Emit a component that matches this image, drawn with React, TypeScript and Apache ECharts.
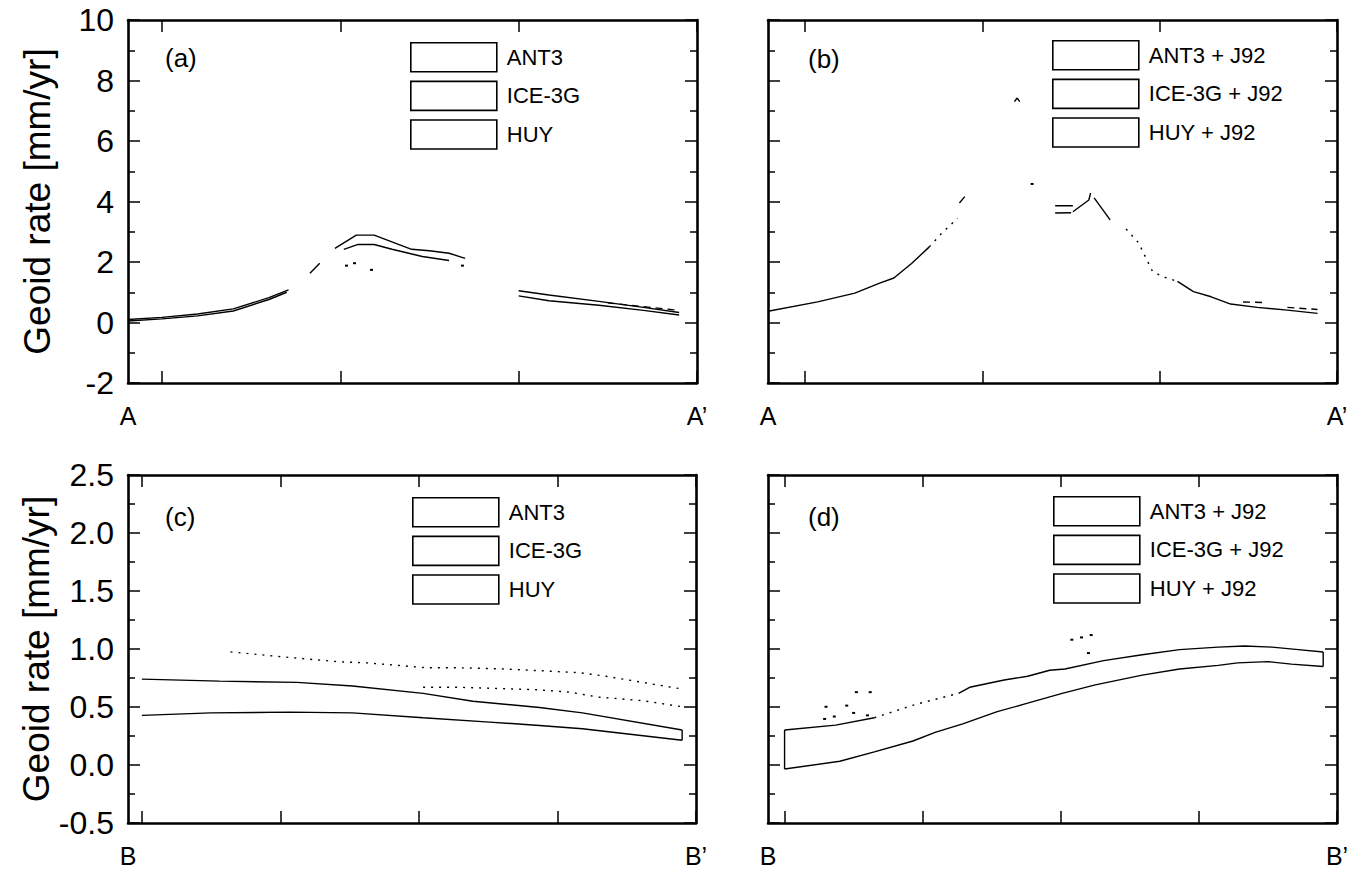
import React, { useEffect, useRef } from "react";
import * as echarts from "echarts";

const FONT = '"Liberation Sans", Arial, Helvetica, sans-serif';

// ---------- tick / label values ----------
const xTicksTop = [0, 1, 2, 3];
const xTicksBottom = [0, 1, 2, 3, 4];
const profileLabelsTop = ["A", "A\u2019"];
const profileLabelsBottom = ["B", "B\u2019"];
const modelsPlain = ["ANT3", "ICE-3G", "HUY"];
const modelsJ92 = ["ANT3 + J92", "ICE-3G + J92", "HUY + J92"];

// ---------- panel (a): geoid rate along A-A' ----------
const aLeftUpper = [[-0.19, 0.1], [0, 0.17], [0.2, 0.28], [0.4, 0.45], [0.6, 0.82], [0.71, 1.08]];
const aLeftLower = [[-0.19, 0.05], [0, 0.12], [0.2, 0.22], [0.4, 0.38], [0.6, 0.76], [0.7, 1.0]];
const aRise = [[0.83, 1.63], [0.885, 1.96]];
const aPeakUpper = [[0.97, 2.45], [1.09, 2.89], [1.19, 2.89], [1.4, 2.42], [1.5, 2.37], [1.61, 2.29], [1.7, 2.12]];
const aPeakLower = [[1.02, 2.42], [1.1, 2.58], [1.19, 2.58], [1.29, 2.42], [1.46, 2.18], [1.61, 2.05]];
const aPeakDots = [[1.035, 1.88], [1.08, 1.96], [1.175, 1.74], [1.685, 1.88]];
const aRightUpper = [[2.0, 1.05], [2.17, 0.91], [2.45, 0.7], [2.7, 0.5], [2.9, 0.33]];
const aRightLower = [[2.0, 0.88], [2.17, 0.72], [2.45, 0.57], [2.7, 0.4], [2.9, 0.25]];
const aRightDash = [[2.5, 0.65], [2.9, 0.4]];

// ---------- panel (b): A-A' with J92 ----------
const bLeft = [[-0.21, 0.37], [0.07, 0.68], [0.28, 0.97], [0.42, 1.3], [0.5, 1.47], [0.6, 1.95], [0.7, 2.5]];
const bLeftDots = [[0.7, 2.5], [0.77, 2.95], [0.86, 3.45]];
const bLeftSeg = [[0.87, 3.95], [0.9, 4.16]];
const bPeakMark = [[1.18, 7.3], [1.196, 7.42], [1.21, 7.3]];
const bPeakDot = [[1.28, 4.58]];
const bEqUpper = [[1.41, 3.86], [1.51, 3.86]];
const bEqLower = [[1.41, 3.62], [1.5, 3.63]];
const bRise = [[1.51, 3.66], [1.6, 4.05], [1.61, 4.28]];
const bFall = [[1.63, 4.12], [1.72, 3.39]];
const bRightDots = [[1.81, 3.09], [1.88, 2.64], [1.96, 1.68], [2.02, 1.51], [2.1, 1.36]];
const bRight = [[2.1, 1.36], [2.19, 1.02], [2.29, 0.85], [2.4, 0.61], [2.55, 0.5], [2.72, 0.41], [2.89, 0.3]];
const bRightDash1 = [[2.47, 0.68], [2.6, 0.66]];
const bRightDash2 = [[2.72, 0.5], [2.89, 0.43]];

// ---------- panel (c): B-B' ----------
const cUpper = [[0, 0.74], [0.56, 0.723], [1.12, 0.712], [1.52, 0.681], [2.03, 0.617], [2.39, 0.549], [2.87, 0.496], [3.18, 0.449], [3.9, 0.302]];
const cLower = [[0, 0.428], [0.5, 0.449], [1.07, 0.456], [1.52, 0.449], [2.03, 0.407], [2.51, 0.37], [2.87, 0.341], [3.18, 0.312], [3.9, 0.213]];
const cEnd = [[3.9, 0.302], [3.9, 0.213]];
const cIceUpper = [[0.64, 0.975], [1.01, 0.933], [1.41, 0.891], [1.63, 0.88], [2.06, 0.838], [2.3, 0.838], [2.61, 0.828], [3.16, 0.796], [3.35, 0.765], [3.88, 0.659]];
const cIceLower = [[2.03, 0.67], [2.3, 0.67], [2.85, 0.649], [3.09, 0.628], [3.29, 0.586], [3.62, 0.554], [3.9, 0.502]];

// ---------- panel (d): B-B' with J92 ----------
const dStart = [[0, 0.302], [0, -0.035]];
const dUpper1 = [[0, 0.302], [0.37, 0.344], [0.65, 0.407]];
const dUpperDots = [[0.65, 0.407], [0.95, 0.523], [1.26, 0.618]];
const dUpper2 = [[1.26, 0.618], [1.34, 0.67], [1.59, 0.733], [1.76, 0.765], [1.92, 0.817], [2.03, 0.828], [2.31, 0.9], [2.59, 0.95], [2.86, 0.995], [3.14, 1.016], [3.33, 1.026], [3.53, 1.016], [3.72, 0.995], [3.9, 0.974]];
const dLower = [[0, -0.035], [0.4, 0.032], [0.65, 0.113], [0.93, 0.207], [1.09, 0.281], [1.29, 0.355], [1.54, 0.46], [1.76, 0.533], [2.01, 0.618], [2.25, 0.691], [2.59, 0.775], [2.86, 0.828], [3.14, 0.859], [3.28, 0.88], [3.5, 0.891], [3.67, 0.87], [3.9, 0.849]];
const dEnd = [[3.9, 0.974], [3.9, 0.849]];
const dDots = [[0.29, 0.397], [0.36, 0.418], [0.5, 0.449], [0.6, 0.428], [0.3, 0.502], [0.45, 0.512], [0.52, 0.628], [0.62, 0.628], [2.08, 1.08], [2.15, 1.1], [2.22, 1.12], [2.2, 0.965]];

type Seg = { panel: number; name: string; data: number[][]; kind: "solid" | "dotted" | "dash" | "dots" };

const segments: Seg[] = [
  { panel: 0, name: "ANT3", data: aLeftUpper, kind: "solid" },
  { panel: 0, name: "HUY", data: aLeftLower, kind: "solid" },
  { panel: 0, name: "ANT3", data: aRise, kind: "solid" },
  { panel: 0, name: "ANT3", data: aPeakUpper, kind: "solid" },
  { panel: 0, name: "HUY", data: aPeakLower, kind: "solid" },
  { panel: 0, name: "ICE-3G", data: aPeakDots, kind: "dots" },
  { panel: 0, name: "ANT3", data: aRightUpper, kind: "solid" },
  { panel: 0, name: "HUY", data: aRightLower, kind: "solid" },
  { panel: 0, name: "ICE-3G", data: aRightDash, kind: "dash" },

  { panel: 1, name: "ANT3 + J92", data: bLeft, kind: "solid" },
  { panel: 1, name: "ANT3 + J92", data: bLeftDots, kind: "dotted" },
  { panel: 1, name: "ANT3 + J92", data: bLeftSeg, kind: "solid" },
  { panel: 1, name: "ICE-3G + J92", data: bPeakMark, kind: "solid" },
  { panel: 1, name: "ICE-3G + J92", data: bPeakDot, kind: "dots" },
  { panel: 1, name: "HUY + J92", data: bEqUpper, kind: "solid" },
  { panel: 1, name: "HUY + J92", data: bEqLower, kind: "solid" },
  { panel: 1, name: "ANT3 + J92", data: bRise, kind: "solid" },
  { panel: 1, name: "ANT3 + J92", data: bFall, kind: "solid" },
  { panel: 1, name: "ANT3 + J92", data: bRightDots, kind: "dotted" },
  { panel: 1, name: "ANT3 + J92", data: bRight, kind: "solid" },
  { panel: 1, name: "ICE-3G + J92", data: bRightDash1, kind: "dash" },
  { panel: 1, name: "ICE-3G + J92", data: bRightDash2, kind: "dash" },

  { panel: 2, name: "ANT3", data: cUpper, kind: "solid" },
  { panel: 2, name: "HUY", data: cLower, kind: "solid" },
  { panel: 2, name: "HUY", data: cEnd, kind: "solid" },
  { panel: 2, name: "ICE-3G", data: cIceUpper, kind: "dotted" },
  { panel: 2, name: "ICE-3G", data: cIceLower, kind: "dotted" },

  { panel: 3, name: "HUY + J92", data: dStart, kind: "solid" },
  { panel: 3, name: "ANT3 + J92", data: dUpper1, kind: "solid" },
  { panel: 3, name: "ANT3 + J92", data: dUpperDots, kind: "dotted" },
  { panel: 3, name: "ANT3 + J92", data: dUpper2, kind: "solid" },
  { panel: 3, name: "HUY + J92", data: dLower, kind: "solid" },
  { panel: 3, name: "HUY + J92", data: dEnd, kind: "solid" },
  { panel: 3, name: "ICE-3G + J92", data: dDots, kind: "dots" },
];

const panels = [
  { grid: { left: 128, top: 20, width: 569, height: 363 }, xMin: -0.19, xMax: 3, ticks: xTicksTop, ends: profileLabelsTop, yMin: -2, yMax: 10, yInt: 2, dec: 0, yLabels: true, tag: "(a)", tagY: 58, legend: modelsPlain, legendPos: [410, 42] },
  { grid: { left: 768, top: 20, width: 569, height: 363 }, xMin: -0.21, xMax: 3, ticks: xTicksTop, ends: profileLabelsTop, yMin: -2, yMax: 10, yInt: 2, dec: 0, yLabels: false, tag: "(b)", tagY: 59, legend: modelsJ92, legendPos: [1052, 40] },
  { grid: { left: 128, top: 475, width: 568, height: 348 }, xMin: -0.1, xMax: 4, ticks: xTicksBottom, ends: profileLabelsBottom, yMin: -0.5, yMax: 2.5, yInt: 0.5, dec: 1, yLabels: true, tag: "(c)", tagY: 517, legend: modelsPlain, legendPos: [412, 497] },
  { grid: { left: 768, top: 475, width: 569, height: 348 }, xMin: -0.12, xMax: 4, ticks: xTicksBottom, ends: profileLabelsBottom, yMin: -0.5, yMax: 2.5, yInt: 0.5, dec: 1, yLabels: false, tag: "(d)", tagY: 517, legend: modelsJ92, legendPos: [1053, 496] },
];

const BLACK = "#000";

function buildOption() {
  const grid: any[] = [];
  const xAxis: any[] = [];
  const yAxis: any[] = [];
  const legend: any[] = [];
  const graphic: any[] = [];

  panels.forEach((p, i) => {
    grid.push({ ...p.grid, containLabel: false });
    const tickCommon = { show: true, inside: true, length: 12, lineStyle: { color: BLACK, width: 1.5 } };
    const lineCommon = { show: true, onZero: false, lineStyle: { color: BLACK, width: 2.6 } };
    const minorCommon = { show: true, splitNumber: 2, length: 7, lineStyle: { color: BLACK, width: 1.5 } };
    xAxis.push({
      gridIndex: i, type: "value", position: "bottom", min: p.xMin, max: p.xMax,
      axisLine: lineCommon,
      axisTick: { ...tickCommon, customValues: p.ticks },
      axisLabel: {
        show: true, customValues: [p.xMin, p.xMax], showMinLabel: true, showMaxLabel: true,
        formatter: (v: number) => (Math.abs(v - p.xMin) < 1e-6 ? p.ends[0] : p.ends[1]),
        color: BLACK, fontSize: 25, fontFamily: FONT, margin: 20,
      },
      splitLine: { show: false },
    });
    xAxis.push({
      gridIndex: i, type: "value", position: "top", min: p.xMin, max: p.xMax,
      axisLine: lineCommon,
      axisTick: { ...tickCommon, customValues: p.ticks },
      axisLabel: { show: false },
      splitLine: { show: false },
    });
    yAxis.push({
      gridIndex: i, type: "value", position: "left", min: p.yMin, max: p.yMax, interval: p.yInt,
      axisLine: lineCommon,
      axisTick: tickCommon,
      minorTick: minorCommon,
      axisLabel: {
        show: p.yLabels, color: BLACK, fontSize: 32, fontFamily: FONT, margin: 14,
        formatter: (v: number) => v.toFixed(p.dec),
      },
      splitLine: { show: false },
      minorSplitLine: { show: false },
      name: p.yLabels ? "Geoid rate [mm/yr]" : "",
      nameLocation: "middle",
      nameGap: 72,
      nameTextStyle: { color: BLACK, fontSize: 37, fontFamily: FONT },
    });
    yAxis.push({
      gridIndex: i, type: "value", position: "right", min: p.yMin, max: p.yMax, interval: p.yInt,
      axisLine: lineCommon,
      axisTick: tickCommon,
      minorTick: minorCommon,
      axisLabel: { show: false },
      splitLine: { show: false },
    });
    const boxStyle = { color: "#fff", borderColor: BLACK, borderWidth: 1.6, borderType: "solid", opacity: 1 };
    legend.push({
      left: p.legendPos[0], top: p.legendPos[1], orient: "vertical", padding: 0,
      itemWidth: 86, itemHeight: 29, itemGap: 8, icon: "rect", selectedMode: false,
      itemStyle: boxStyle,
      textStyle: { color: BLACK, fontSize: 22, fontFamily: FONT, padding: [0, 0, 0, 5] },
      data: p.legend.map((n) => ({ name: n, icon: "rect", itemStyle: boxStyle })),
    });
    graphic.push({
      type: "text", x: p.grid.left + (i % 2 === 0 ? 37 : 40), y: p.tagY,
      style: { text: p.tag, font: `26px ${FONT}`, fill: BLACK, verticalAlign: "middle" },
    });
  });

  const series = segments.map((s) => {
    const base: any = {
      name: s.name,
      xAxisIndex: s.panel * 2,
      yAxisIndex: s.panel * 2,
      data: s.data,
      silent: true,
    };
    if (s.kind === "dots") {
      return { ...base, type: "scatter", symbol: "rect", symbolSize: [3, 2], itemStyle: { color: BLACK, opacity: 1 } };
    }
    return {
      ...base, type: "line", showSymbol: false, smooth: false,
      lineStyle: {
        color: BLACK, width: 1.4,
        type: s.kind === "solid" ? "solid" : s.kind === "dotted" ? [2, 6] : [7, 5],
      },
      itemStyle: { color: BLACK },
    };
  });

  return {
    animation: false,
    backgroundColor: "#fff",
    textStyle: { fontFamily: FONT },
    grid, xAxis, yAxis, legend, graphic, series,
  };
}

export default function App() {
  const ref = useRef<HTMLDivElement>(null);
  useEffect(() => {
    if (!ref.current) return;
    const chart = echarts.init(ref.current, null, { renderer: "svg" });
    chart.setOption(buildOption() as any);
    return () => chart.dispose();
  }, []);
  return (
    <div
      ref={ref}
      style={{ position: "fixed", left: 0, top: 0, width: 1362, height: 883, background: "#fff" }}
    />
  );
}
